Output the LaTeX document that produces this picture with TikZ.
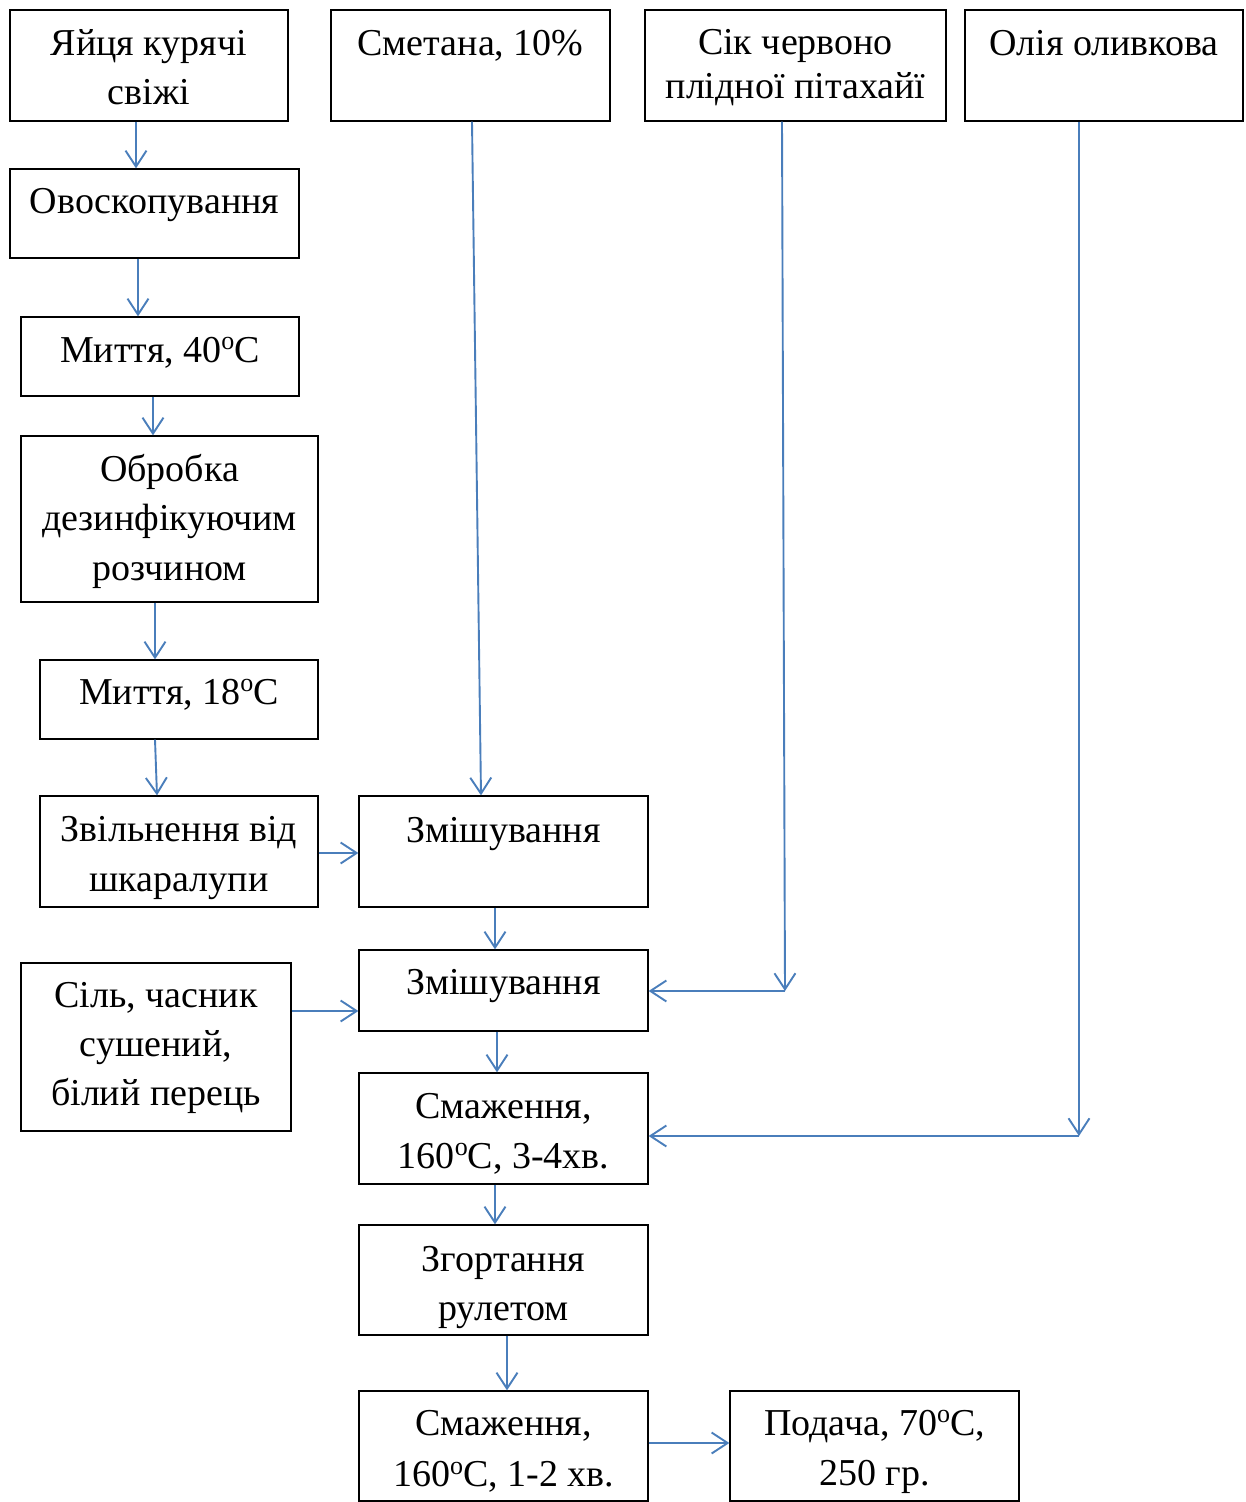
\documentclass[tikz,border=0pt]{standalone}
\usepackage{fontspec}
\setmainfont{Liberation Serif}
\usetikzlibrary{arrows.meta}
\definecolor{conn}{HTML}{4A7EBB}
\newcommand\dgr{\raisebox{12.5pt}{\fontsize{26}{26}\selectfont o}}
\begin{document}
\begin{tikzpicture}[x=1pt,y=-1pt,
  box/.style={draw=black, line width=1.3pt, inner sep=0pt, fill=none},
  txt/.style={anchor=north, inner sep=0pt, align=center},
  arr/.style={draw=conn, line width=1.9pt, -{Straight Barb[length=16pt,width=21pt,line width=1.9pt]}}]
\useasboundingbox (0,0) rectangle (1245,1502);
% boxes
\node[box, minimum width=278pt, minimum height=111pt] (b1) at (149,65.5) {};
\node[box, minimum width=279pt, minimum height=111pt] (b2) at (470.5,65.5) {};
\node[box, minimum width=301pt, minimum height=111pt] (b3) at (795.5,65.5) {};
\node[box, minimum width=278pt, minimum height=111pt] (b4) at (1104,65.5) {};
\node[box, minimum width=289pt, minimum height=89pt] (b5) at (154.5,213.5) {};
\node[box, minimum width=278pt, minimum height=79pt] (b6) at (160,356.5) {};
\node[box, minimum width=297pt, minimum height=166pt] (b7) at (169.5,519) {};
\node[box, minimum width=278pt, minimum height=79pt] (b8) at (179,699.5) {};
\node[box, minimum width=278pt, minimum height=111pt] (b9) at (179,851.5) {};
\node[box, minimum width=289pt, minimum height=111pt] (b10) at (503.5,851.5) {};
\node[box, minimum width=289pt, minimum height=81pt] (b11) at (503.5,990.5) {};
\node[box, minimum width=270pt, minimum height=168pt] (b12) at (156,1047) {};
\node[box, minimum width=289pt, minimum height=111pt] (b13) at (503.5,1128.5) {};
\node[box, minimum width=289pt, minimum height=110pt] (b14) at (503.5,1280) {};
\node[box, minimum width=289pt, minimum height=110pt] (b15) at (503.5,1446) {};
\node[box, minimum width=289pt, minimum height=110pt] (b16) at (874.5,1446) {};
% texts (anchor north = first baseline - 0.7*baselineskip)
\node[txt, font=\fontsize{38}{49}\selectfont] (t1) at (149,20.7) {\strut Яйця курячі\\\strut свіжі};
\node[txt, font=\fontsize{38}{48}\selectfont] (t2) at (470.5,21.4) {\strut Сметана, 10\%};
\node[txt, font=\fontsize{38}{44}\selectfont] (t3) at (795.5,23.2) {\strut Сік червоно\\\strut плідної пітахайї};
\node[txt, font=\fontsize{38}{48}\selectfont] (t4) at (1104,21.4) {\strut Олія оливкова};
\node[txt, font=\fontsize{38}{48}\selectfont] (t5) at (154.5,179.4) {\strut Овоскопування};
\node[txt, font=\fontsize{38}{48}\selectfont] (t6) at (160,328.4) {\strut Миття, 40\dgr С};
\node[txt, font=\fontsize{38}{49.5}\selectfont] (t7) at (169.5,446.3) {\strut Обробка\\\strut дезинфікуючим\\\strut розчином};
\node[txt, font=\fontsize{38}{48}\selectfont] (t8) at (179,670.4) {\strut Миття, 18\dgr С};
\node[txt, font=\fontsize{38}{50}\selectfont] (t9) at (179,806) {\strut Звільнення від\\\strut шкаралупи};
\node[txt, font=\fontsize{38}{48}\selectfont] (t10) at (503.5,808.4) {\strut Змішування};
\node[txt, font=\fontsize{38}{48}\selectfont] (t11) at (503.5,960.4) {\strut Змішування};
\node[txt, font=\fontsize{38}{49}\selectfont] (t12) at (156,972.7) {\strut Сіль, часник\\\strut сушений,\\\strut білий перець};
\node[txt, font=\fontsize{38}{50}\selectfont] (t13) at (503.5,1083) {\strut Смаження,\\\strut 160\dgr С, 3-4хв.};
\node[txt, font=\fontsize{38}{49}\selectfont] (t14) at (503.5,1236.7) {\strut Згортання\\\strut рулетом};
\node[txt, font=\fontsize{38}{51}\selectfont] (t15) at (503.5,1399.8) {\strut Смаження,\\\strut 160\dgr С, 1-2 хв.};
\node[txt, font=\fontsize{38}{50}\selectfont] (t16) at (874.5,1400) {\strut Подача, 70\dgr С,\\\strut 250 гр.};
% junction points
\coordinate (c1) at (785,991);
\coordinate (c2) at (1079,1136);
% connectors
\draw[arr] ([xshift=-13pt]b1.south) -- ([xshift=-18.5pt]b5.north);
\draw[arr] ([xshift=-16.5pt]b5.south) -- ([xshift=-22pt]b6.north);
\draw[arr] ([xshift=-7pt]b6.south) -- ([xshift=-16.5pt]b7.north);
\draw[arr] ([xshift=-14.5pt]b7.south) -- ([xshift=-24pt]b8.north);
\draw[arr] ([xshift=-24pt]b8.south) -- ([xshift=-22pt]b9.north);
\draw[arr] ([xshift=1.5pt]b2.south) -- ([xshift=-22.5pt]b10.north);
\draw[arr] ([yshift=-1.5pt]b9.east) -- ([yshift=-1.5pt]b10.west);
\draw[arr] ([xshift=-8.5pt]b10.south) -- ([xshift=-8.5pt]b11.north);
\draw[arr] ([xshift=-13.5pt]b3.south) -- (c1);
\draw[arr] (c1) -- (b11.east |- c1);
\draw[arr] ([yshift=36pt]b12.east) -- ([yshift=-20.5pt]b11.west);
\draw[arr] ([xshift=-6.5pt]b11.south) -- ([xshift=-6.5pt]b13.north);
\draw[arr] ([xshift=-25pt]b4.south) -- (c2);
\draw[arr] (c2) -- (b13.east |- c2);
\draw[arr] ([xshift=-8.5pt]b13.south) -- ([xshift=-8.5pt]b14.north);
\draw[arr] ([xshift=3.5pt]b14.south) -- ([xshift=3.5pt]b15.north);
\draw[arr] ([yshift=3pt]b15.east) -- ([yshift=3pt]b16.west);
\end{tikzpicture}
\end{document}
